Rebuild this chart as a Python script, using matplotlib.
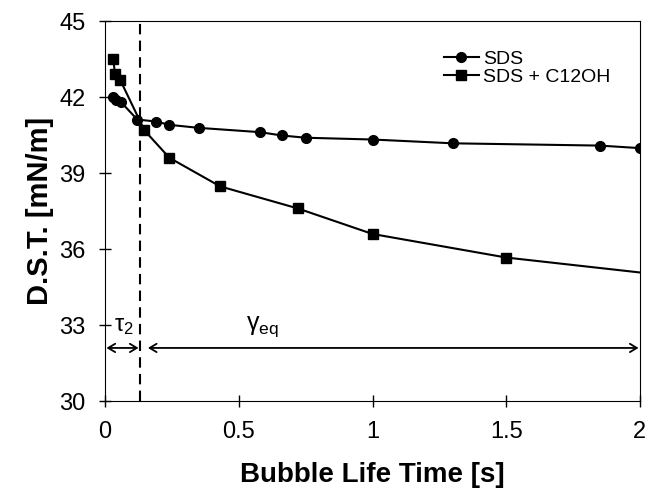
import matplotlib.pyplot as plt

plt.rcParams['font.family'] = ['Liberation Sans', 'DejaVu Sans']

# SDS
sds_t = [0.03, 0.04, 0.06, 0.12, 0.19, 0.24, 0.35, 0.58, 0.66, 0.75, 1.0, 1.30, 1.85, 2.0]
sds_y = [42.0, 41.9, 41.8, 41.12, 41.04, 40.91, 40.79, 40.62, 40.49, 40.40, 40.33, 40.18, 40.09, 39.99]

# SDS + C12OH (last point is the line end, no marker)
mix_t = [0.03, 0.037, 0.056, 0.147, 0.24, 0.43, 0.72, 1.0, 1.5, 2.0]
mix_y = [43.5, 42.93, 42.69, 40.69, 39.61, 38.48, 37.61, 36.60, 35.67, 35.08]

tau2 = 0.13

fig = plt.figure(figsize=(6.49, 4.94), dpi=100)
ax = fig.add_axes([0.162, 0.188, 0.824, 0.769])

ax.plot(sds_t, sds_y, color='black', lw=1.5, marker='o', ms=7, label='SDS')
ax.plot(mix_t, mix_y, color='black', lw=1.5, marker='s', ms=7,
        markevery=list(range(len(mix_t) - 1)), label='SDS + C12OH')

ax.axvline(tau2, color='black', lw=1.5, ls=(0, (5, 3)))

arrow = dict(arrowstyle='<->,head_length=0.5,head_width=0.3', color='black', lw=1.3,
             shrinkA=0, shrinkB=0)
ax.annotate('', xy=(0.005, 32.1), xytext=(tau2 - 0.005, 32.1), arrowprops=arrow)
ax.annotate('', xy=(0.16, 32.1), xytext=(1.995, 32.1), arrowprops=arrow)
ax.text(0.07, 32.95, r'$\mathregular{\tau_2}$', fontsize=17, ha='center', va='center')
ax.text(0.59, 32.95, r'$\mathregular{\gamma_{eq}}$', fontsize=18, ha='center', va='center')

ax.set_xlim(0, 2)
ax.set_ylim(30, 45)
ax.set_xticks([0, 0.5, 1, 1.5, 2])
ax.set_xticklabels(['0', '0.5', '1', '1.5', '2'])
ax.set_yticks([30, 33, 36, 39, 42, 45])
ax.tick_params(direction='inout', length=8, width=1, labelsize=17, pad=10)

ax.set_xlabel('Bubble Life Time [s]', fontsize=20, fontweight='bold', labelpad=14)
ax.set_ylabel('D.S.T. [mN/m]', fontsize=21, fontweight='bold', labelpad=4)

ax.legend(loc='upper right', frameon=False, fontsize=14, handlelength=1.8,
          handletextpad=0.2, borderaxespad=0.3, labelspacing=0.05,
          bbox_to_anchor=(0.97, 0.96))

fig.savefig('out.png', dpi=100)
